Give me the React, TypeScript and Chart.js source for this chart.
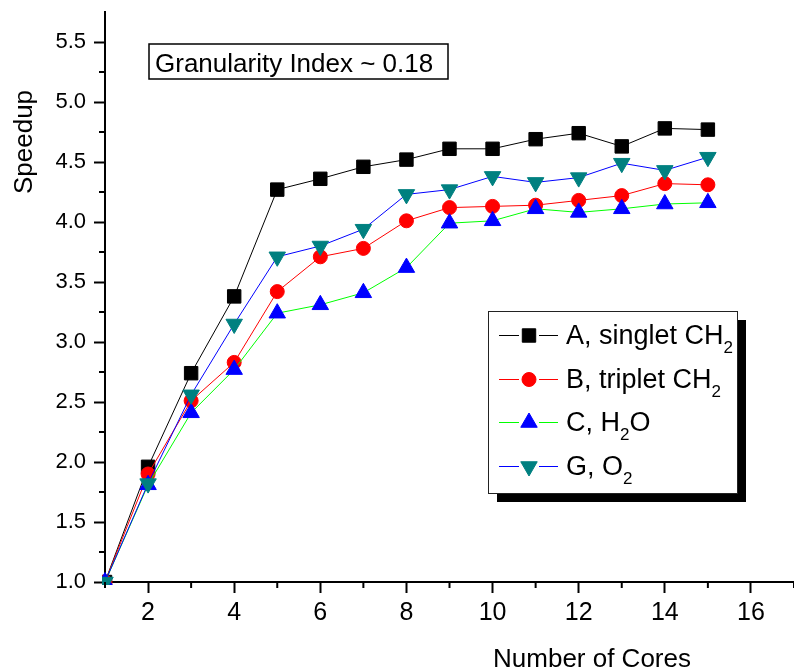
import React, { useEffect, useRef } from 'react';
import { Chart, registerables } from 'chart.js';
import { drawPoint } from 'chart.js/helpers';

Chart.register(...registerables);

const cores = [1, 2, 3, 4, 5, 6, 7, 8, 9, 10, 11, 12, 13, 14, 15];
const seriesA = [1.0, 1.96, 2.74, 3.38, 4.27, 4.36, 4.46, 4.52, 4.61, 4.61, 4.69, 4.74, 4.63, 4.78, 4.77];
const seriesB = [1.0, 1.9, 2.51, 2.83, 3.42, 3.71, 3.78, 4.01, 4.12, 4.13, 4.14, 4.18, 4.22, 4.32, 4.31];
const seriesC = [1.0, 1.81, 2.41, 2.77, 3.24, 3.31, 3.41, 3.62, 3.99, 4.01, 4.11, 4.08, 4.11, 4.15, 4.16];
const seriesG = [1.0, 1.82, 2.56, 3.15, 3.71, 3.8, 3.94, 4.23, 4.27, 4.38, 4.33, 4.37, 4.49, 4.43, 4.54];
const seriesLabels = ['A, singlet CH₂', 'B, triplet CH₂', 'C, H₂O', 'G, O₂'];
const xTickValues = [2, 4, 6, 8, 10, 12, 14, 16];
const xMinorValues = [1, 3, 5, 7, 9, 11, 13, 15, 17];
const yTickValues = [1.0, 1.5, 2.0, 2.5, 3.0, 3.5, 4.0, 4.5, 5.0, 5.5];
const yMinorValues = [1.25, 1.75, 2.25, 2.75, 3.25, 3.75, 4.25, 4.75, 5.25];
const xTitle = 'Number of Cores';
const yTitle = 'Speedup';
const noteText = 'Granularity Index ~ 0.18';

const FONT = '"Liberation Sans", Arial, sans-serif';

function drawRich(ctx: CanvasRenderingContext2D, text: string, x: number, y: number) {
  let cx = x;
  for (const ch of text) {
    if (ch === '₂') {
      ctx.font = '17px ' + FONT;
      ctx.fillText('2', cx, y + 9);
      cx += ctx.measureText('2').width;
    } else {
      ctx.font = '27px ' + FONT;
      ctx.fillText(ch, cx, y);
      cx += ctx.measureText(ch).width;
    }
  }
}

const decorPlugin = {
  id: 'decor',
  afterDraw(chart: any) {
    const ctx: CanvasRenderingContext2D = chart.ctx;
    const xs = chart.scales.x;
    const ys = chart.scales.y;
    ctx.save();
    ctx.strokeStyle = '#000';
    ctx.fillStyle = '#000';
    ctx.lineWidth = 2;
    for (const v of xMinorValues) {
      const px = xs.getPixelForValue(v);
      ctx.beginPath();
      ctx.moveTo(px, xs.top);
      ctx.lineTo(px, xs.top + 6);
      ctx.stroke();
    }
    for (const v of yMinorValues) {
      const py = ys.getPixelForValue(v);
      ctx.beginPath();
      ctx.moveTo(ys.right, py);
      ctx.lineTo(ys.right - 6, py);
      ctx.stroke();
    }
    // axis titles
    ctx.font = '26px ' + FONT;
    ctx.textAlign = 'center';
    ctx.textBaseline = 'alphabetic';
    ctx.fillText(xTitle, 592, 667);
    ctx.save();
    ctx.translate(32, 142);
    ctx.rotate(-Math.PI / 2);
    ctx.fillText(yTitle, 0, 0);
    ctx.restore();

    // note box
    ctx.lineWidth = 1.5;
    ctx.strokeRect(149, 44, 299, 35);
    ctx.textAlign = 'left';
    ctx.fillText(noteText, 155, 72);

    // legend
    ctx.fillStyle = '#000';
    ctx.fillRect(497, 320, 249, 182);
    ctx.fillStyle = '#fff';
    ctx.fillRect(488, 311, 249, 182);
    ctx.strokeStyle = '#222';
    ctx.lineWidth = 1;
    ctx.strokeRect(488.5, 311.5, 249, 182);
    chart.data.datasets.forEach((ds: any, i: number) => {
      const base = Math.round(344 + i * 43.5);
      const my = base - 9 + 0.5;
      ctx.strokeStyle = ds.borderColor;
      ctx.lineWidth = 1;
      ctx.beginPath();
      ctx.moveTo(499, my);
      ctx.lineTo(519, my);
      ctx.moveTo(539, my);
      ctx.lineTo(558, my);
      ctx.stroke();
      ctx.fillStyle = ds.pointBackgroundColor;
      ctx.strokeStyle = ds.pointBorderColor;
      drawPoint(ctx, {
        pointStyle: ds.pointStyle,
        rotation: ds.pointRotation || 0,
        radius: ds.pointRadius,
        borderWidth: ds.pointBorderWidth,
      } as any, 529, my);
      ctx.fillStyle = '#000';
      ctx.textAlign = 'left';
      drawRich(ctx, ds.label, 566, base);
    });
    ctx.restore();
  },
};

function mk(label: string, ys: number[], line: string, fill: string, style: string, radius: number, rotation: number, order: number) {
  return {
    label,
    data: cores.map((c, i) => ({ x: c, y: ys[i] })),
    borderColor: line,
    borderWidth: 1,
    pointBackgroundColor: fill,
    pointBorderColor: fill,
    pointBorderWidth: 1,
    pointStyle: style,
    pointRadius: radius,
    pointHoverRadius: radius,
    pointRotation: rotation,
    tension: 0,
    order,
    clip: 3,
  };
}

export default function App() {
  const ref = useRef<HTMLCanvasElement | null>(null);
  useEffect(() => {
    document.body.style.margin = '0';
    const canvas = ref.current!;
    const chart = new Chart(canvas, {
      type: 'line',
      data: {
        datasets: [
          mk(seriesLabels[0], seriesA, '#000000', '#000000', 'rect', 9.5, 0, 4),
          mk(seriesLabels[1], seriesB, '#ff0000', '#ff0000', 'circle', 7, 0, 3),
          mk(seriesLabels[2], seriesC, '#00ff00', '#0000ff', 'triangle', 9.5, 0, 2),
          mk(seriesLabels[3], seriesG, '#0000ff', '#008080', 'triangle', 9.5, 180, 1),
        ] as any,
      },
      options: {
        animation: false,
        responsive: false,
        maintainAspectRatio: false,
        layout: { autoPadding: false, padding: { top: 12, right: 0, left: 0, bottom: 0 } },
        plugins: { legend: { display: false }, tooltip: { enabled: false } },
        scales: {
          x: {
            type: 'linear',
            min: 1,
            max: 17,
            afterBuildTicks: (s: any) => {
              s.ticks = xTickValues.map((v) => ({ value: v }));
            },
            afterFit: (s: any) => {
              s.height = 89;
              s.paddingLeft = 0;
              s.paddingRight = 0;
              s.paddingTop = 0;
              s.paddingBottom = 0;
            },
            ticks: {
              color: '#000',
              padding: 5,
              font: { family: '"Liberation Sans Narrow", "Liberation Sans", Arial', size: 25 },
              maxRotation: 0,
              autoSkip: false,
              callback: (v: any) => String(v),
            },
            grid: { display: true, drawOnChartArea: false, tickLength: 11, tickWidth: 2, tickColor: '#000', color: '#000' },
            border: { display: true, color: '#000', width: 2 },
          },
          y: {
            type: 'linear',
            min: 1,
            max: 5.75,
            afterBuildTicks: (s: any) => {
              s.ticks = yTickValues.map((v) => ({ value: v }));
            },
            afterFit: (s: any) => {
              s.width = 105;
              s.paddingLeft = 0;
              s.paddingRight = 0;
              s.paddingTop = 0;
              s.paddingBottom = 0;
            },
            ticks: {
              color: '#000',
              padding: 8,
              font: { family: FONT, size: 22 },
              autoSkip: false,
              callback: (v: any) => Number(v).toFixed(1),
            },
            grid: { display: true, drawOnChartArea: false, tickLength: 11, tickWidth: 2, tickColor: '#000', color: '#000' },
            border: { display: true, color: '#000', width: 2 },
          },
        },
      } as any,
      plugins: [decorPlugin],
    });
    return () => chart.destroy();
  }, []);
  return <canvas ref={ref} width={794} height={671} style={{ display: 'block' }} />;
}
